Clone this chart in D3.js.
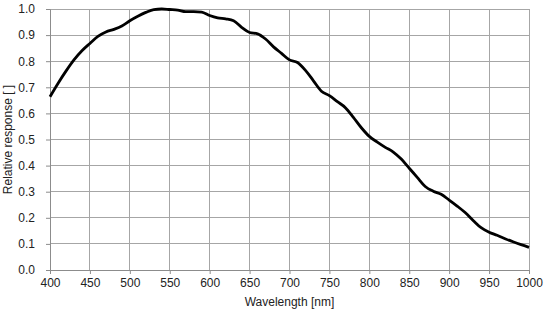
<!DOCTYPE html>
<html><head><meta charset="utf-8">
<script src="https://cdn.jsdelivr.net/npm/d3@7"></script>
<style>body{margin:0;background:#fff}svg{display:block}text{font-family:"Liberation Sans",Arial,sans-serif;fill:#222}</style>
</head><body>
<script>
const wavelengths=[400,410,420,430,440,450,460,470,480,490,500,510,520,530,540,550,560,570,580,590,600,610,620,630,640,650,660,670,680,690,700,710,720,730,740,750,760,770,780,790,800,810,820,830,840,850,860,870,880,890,900,910,920,930,940,950,960,970,980,990,1000];
const response=[0.664,0.715,0.762,0.805,0.84,0.868,0.895,0.912,0.922,0.935,0.955,0.972,0.987,0.998,1.0,0.998,0.996,0.99,0.99,0.988,0.975,0.966,0.962,0.955,0.93,0.91,0.905,0.885,0.855,0.83,0.805,0.795,0.765,0.725,0.685,0.668,0.645,0.622,0.585,0.545,0.512,0.49,0.47,0.452,0.425,0.39,0.355,0.32,0.302,0.29,0.268,0.245,0.22,0.19,0.162,0.145,0.133,0.12,0.108,0.097,0.087];
const xTicks=[400,450,500,550,600,650,700,750,800,850,900,950,1000];
const yTicks=[0,0.1,0.2,0.3,0.4,0.5,0.6,0.7,0.8,0.9,1.0];

const W=554,H=331,L=50,R=529,T=9,B=270;
const svg=d3.select("body").append("svg").attr("width",W).attr("height",H);
const x=d3.scaleLinear().domain([400,1000]).range([L,R]);
const y=d3.scaleLinear().domain([0,1]).range([B,T]);

// grid
svg.append("g").selectAll("line").data(xTicks).join("line")
 .attr("x1",d=>x(d)).attr("x2",d=>x(d)).attr("y1",T).attr("y2",B)
 .attr("stroke","#a6a6a6").attr("stroke-width",1).attr("shape-rendering","crispEdges");
svg.append("g").selectAll("line").data(yTicks).join("line")
 .attr("x1",L).attr("x2",R).attr("y1",d=>y(d)).attr("y2",d=>y(d))
 .attr("stroke","#a6a6a6").attr("stroke-width",1).attr("shape-rendering","crispEdges");

// axes
const xa=svg.append("g").attr("transform",`translate(0,${B})`)
 .call(d3.axisBottom(x).tickValues(xTicks).tickSize(4).tickPadding(4).tickFormat(d3.format("d")));
const ya=svg.append("g").attr("transform",`translate(${L},0)`)
 .call(d3.axisLeft(y).tickValues(yTicks).tickSize(4).tickPadding(11).tickFormat(d3.format(".1f")));
[xa,ya].forEach(g=>{
 g.select(".domain").attr("stroke","#8c8c8c");
 g.selectAll(".tick line").attr("stroke","#8c8c8c");
 g.selectAll("text").attr("font-size",12).attr("fill","#222").attr("font-family","Liberation Sans, Arial, sans-serif");
});

// curve
svg.append("path").datum(wavelengths.map((w,i)=>[w,response[i]]))
 .attr("fill","none").attr("stroke","#000").attr("stroke-width",2.8).attr("stroke-linejoin","round")
 .attr("d",d3.line().x(d=>x(d[0])).y(d=>y(d[1])).curve(d3.curveMonotoneX));

svg.append("text").attr("x",(L+R)/2).attr("y",306).attr("text-anchor","middle").attr("font-size",12).text("Wavelength [nm]");
svg.append("text").attr("transform",`translate(12,${(T+B)/2}) rotate(-90)`).attr("text-anchor","middle").attr("font-size",12).text("Relative response [ ]");
</script>
</body></html>
